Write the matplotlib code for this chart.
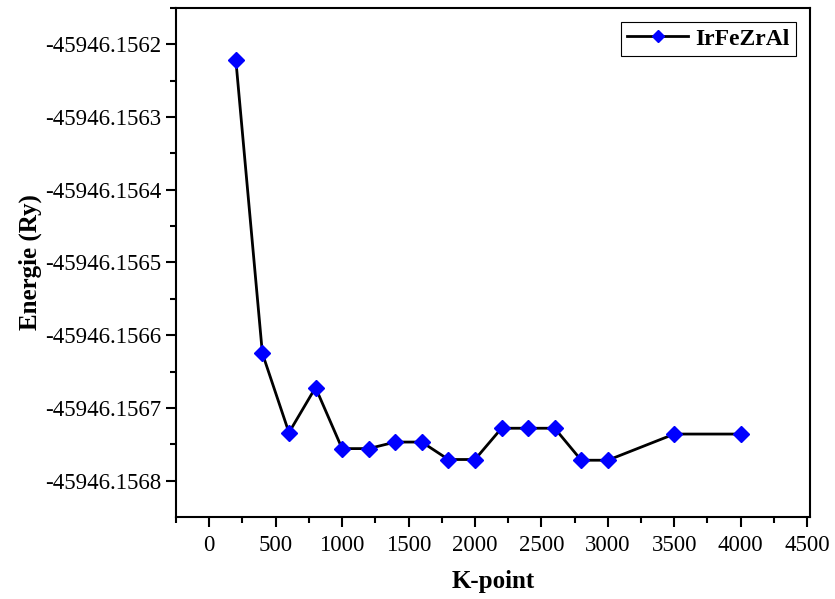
import matplotlib
matplotlib.use('Agg')
import matplotlib.pyplot as plt
from matplotlib.ticker import FormatStrFormatter, MultipleLocator

# K-point convergence data
kpoints = [200, 400, 600, 800, 1000, 1200, 1400, 1600, 1800, 2000,
           2200, 2400, 2600, 2800, 3000, 3500, 4000]
energy = [-45946.156221, -45946.156625, -45946.156734, -45946.156672,
          -45946.156756, -45946.156756, -45946.156747, -45946.156747,
          -45946.156771, -45946.156771, -45946.156728, -45946.156728,
          -45946.156728, -45946.156772, -45946.156772, -45946.156736,
          -45946.156736]

plt.rcParams['font.family'] = ['Liberation Serif', 'DejaVu Serif']

fig = plt.figure(figsize=(8.35, 5.99), dpi=100)
ax = fig.add_axes([0.2108, 0.137, 0.759, 0.8496])

ax.plot(kpoints, energy, color='black', linewidth=2, marker='D',
        markersize=8, markerfacecolor='blue', markeredgecolor='blue',
        label='IrFeZrAl')

ax.set_xlim(-250, 4520)
ax.set_ylim(-45946.15685, -45946.15615)
ax.xaxis.set_major_locator(MultipleLocator(500))
ax.xaxis.set_minor_locator(MultipleLocator(250))
ax.yaxis.set_major_locator(MultipleLocator(0.0001))
ax.yaxis.set_minor_locator(MultipleLocator(0.00005))
ax.yaxis.set_major_formatter(FormatStrFormatter('%.4f'))

ax.tick_params(which='both', direction='out', width=1.5, labelsize=16.5)
ax.tick_params(which='major', length=7)
ax.tick_params(which='minor', length=4)
ax.tick_params(axis='x', pad=6)
for s in ax.spines.values():
    s.set_linewidth(1.5)

ax.set_xlabel('K-point', fontsize=18, fontweight='bold', labelpad=10)
ax.set_ylabel('Energie (Ry)', fontsize=18, fontweight='bold', labelpad=2)

leg = ax.legend(loc='upper right', prop={'weight': 'bold', 'size': 17},
                fancybox=False, edgecolor='black', framealpha=1,
                handlelength=2.6, handletextpad=0.3, borderpad=0.25,
                borderaxespad=0.6, markerscale=0.75)
leg.get_frame().set_linewidth(0.8)

fig.savefig('out.png', dpi=100)
